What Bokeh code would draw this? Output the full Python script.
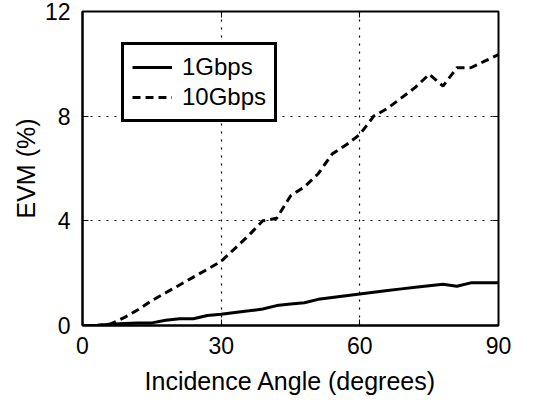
from bokeh.plotting import figure
from bokeh.models import Legend, LegendItem, LinearAxis, Range1d, FixedTicker, CustomJSTickFormatter
from bokeh.embed import file_html
from bokeh.resources import INLINE

angles = [0, 3, 6, 9, 12, 15, 18, 21, 24, 27, 30, 33, 36, 39, 42, 45, 48, 51, 54, 57, 60,
          63, 66, 69, 72, 75, 78, 81, 84, 87, 90]
evm_1g = [0, 0, 0.05, 0.08, 0.1, 0.1, 0.2, 0.26, 0.26, 0.38, 0.43, 0.5, 0.56, 0.63, 0.76, 0.82,
          0.87, 1.0, 1.07, 1.14, 1.2, 1.27, 1.34, 1.4, 1.46, 1.52, 1.58, 1.5, 1.63, 1.63, 1.63]
evm_10g = [0, 0, 0.05, 0.3, 0.6, 0.95, 1.25, 1.55, 1.85, 2.15, 2.45, 2.95, 3.45, 4.0, 4.1, 4.95,
           5.3, 5.8, 6.55, 6.9, 7.3, 8.0, 8.3, 8.7, 9.1, 9.6, 9.15, 9.85, 9.85, 10.1, 10.35]
x_ticks = [0, 30, 60, 90]
y_ticks = [0, 4, 8, 12]
series_names = ["1Gbps", "10Gbps"]

FONT = "Liberation Sans"

p = figure(frame_width=416, frame_height=314, output_backend="svg", toolbar_location=None,
           x_range=Range1d(0, 90), y_range=Range1d(0, 12),
           min_border_left=82, min_border_top=11, min_border_right=30, min_border_bottom=60,
           x_axis_label="Incidence Angle (degrees)", y_axis_label="EVM (%)")
p.background_fill_color = "white"
p.border_fill_color = "white"
p.outline_line_color = "black"
p.outline_line_width = 2
p.outline_line_alpha = 1

for ax in (p.xaxis[0], p.yaxis[0]):
    ax.axis_line_color = "black"
    ax.axis_line_width = 2
    ax.major_tick_in = 6
    ax.major_tick_out = 0
    ax.minor_tick_line_color = None
    ax.major_tick_line_color = "black"
    ax.major_tick_line_width = 1
    ax.major_label_text_font = FONT
    ax.major_label_text_font_size = "23px"
    ax.major_label_text_color = "black"
    ax.axis_label_text_font = FONT
    ax.axis_label_text_font_size = "25px"
    ax.axis_label_text_font_style = "normal"
    ax.axis_label_text_color = "black"
p.xaxis[0].ticker = FixedTicker(ticks=x_ticks)
p.yaxis[0].ticker = FixedTicker(ticks=y_ticks)
p.xaxis[0].major_label_standoff = 11
p.xaxis[0].axis_label_standoff = 10
p.yaxis[0].major_label_standoff = 12
p.yaxis[0].axis_label_standoff = 2

# ticks on the top and right sides (no labels)
blank = CustomJSTickFormatter(code="return ''")
top_ax = LinearAxis(ticker=FixedTicker(ticks=x_ticks), major_tick_in=6, major_tick_out=0,
                    minor_tick_line_color=None, formatter=blank, major_label_standoff=0,
                    axis_line_color=None)
right_ax = LinearAxis(ticker=FixedTicker(ticks=y_ticks), major_tick_in=6, major_tick_out=0,
                      minor_tick_line_color=None, formatter=blank, major_label_standoff=0,
                      axis_line_color=None)
p.add_layout(top_ax, "above")
p.add_layout(right_ax, "right")

p.xgrid.ticker = FixedTicker(ticks=[30, 60])
p.ygrid.ticker = FixedTicker(ticks=[4, 8])
for g in (p.xgrid[0], p.ygrid[0]):
    g.grid_line_color = "black"
    g.grid_line_width = 1.2
    g.grid_line_alpha = 1
    g.grid_line_dash = "2 6"

r1 = p.line(angles, evm_1g, line_color="black", line_width=3)
r2 = p.line(angles, evm_10g, line_color="black", line_width=3, line_dash="8 5")

legend = Legend(items=[LegendItem(label=series_names[0], renderers=[r1]),
                       LegendItem(label=series_names[1], renderers=[r2])],
                location=(39, 203))
legend.border_line_color = "black"
legend.border_line_alpha = 1
legend.border_line_width = 3
legend.background_fill_color = "white"
legend.background_fill_alpha = 1
legend.label_text_font = FONT
legend.label_text_font_size = "24px"
legend.label_text_color = "black"
legend.glyph_width = 40
legend.glyph_height = 24
legend.label_height = 24
legend.label_standoff = 10
legend.spacing = 2
legend.padding = 8
legend.margin = 0
p.add_layout(legend, "center")

open("out.html", "w").write(file_html(p, INLINE))
